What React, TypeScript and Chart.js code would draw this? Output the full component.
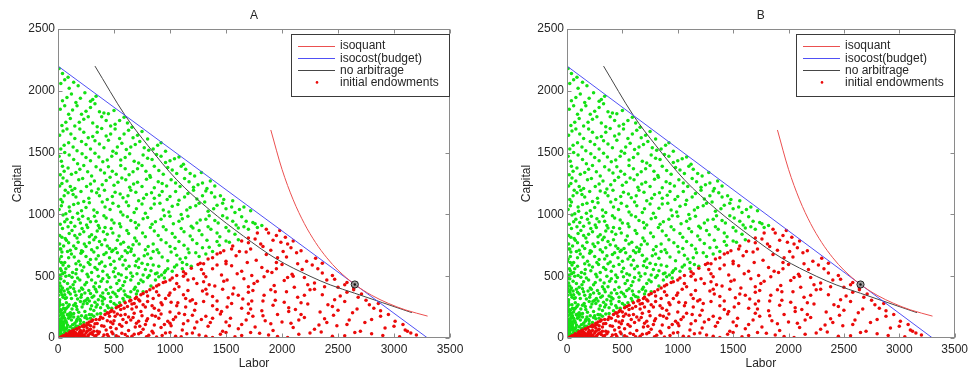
import React, { useEffect, useRef } from "react";
import { Chart, registerables } from "chart.js";

Chart.register(...registerables);

// ---------- text ----------
const panelTitles = ["A", "B"];
const xLabel = "Labor";
const yLabel = "Capital";
const legendLabels = ["isoquant", "isocost(budget)", "no arbitrage", "initial endowments"];

// ---------- axes ----------
const xTickValues = [0, 500, 1000, 1500, 2000, 2500, 3000, 3500];
const yTickValues = [0, 500, 1000, 1500, 2000, 2500];

// ---------- curves ----------
const isoquantL = [1900, 2000, 2100, 2200, 2300, 2400, 2500, 2650, 2800, 2950, 3100, 3300];
const isoquantK = [1683, 1365, 1118, 925, 772, 649, 549, 433, 346, 280, 228, 177];

const isocostL = [0, 3300];
const isocostK = [2200, 0];

const noArbL = [330, 600, 800, 1060, 1350, 1655, 1950, 2250, 2430, 2650, 2900, 3160];
const noArbK = [2200, 1800, 1560, 1280, 1040, 825, 640, 500, 430, 362, 285, 205];

const optimumPoint = [2650, 433];

// ---------- initial endowments ----------
const greenPoints: number[][] = [
  [5,12],[12,40],[30,75],[8,88],[45,95],[20,60],[60,45],[15,25],[35,30],[70,70],[90,55],[150,80],[110,92],[180,95],[25,50],[50,65],[3,70],[80,85],[130,75],[10,5],[40,22],[65,38],[100,60],[160,98],[55,82],
  [5,150],[20,230],[10,300],[35,350],[3,400],[25,420],[15,380],[45,270],[8,255],[50,180],[30,120],[65,320],[40,200],[18,80],[28,140],[6,60],[75,240],[55,380],[12,480],[42,520],[22,560],[5,620],[30,660],[18,720],
  [3,20],[18,45],[32,85],[50,110],[75,125],[95,160],[120,190],[60,135],[22,100],[8,130],[40,160],[85,190],[140,170],[170,150],[250,180],[290,160],[200,140],
  [10,110],[40,130],[85,105],[150,120],[200,115],[230,125],[15,150],[60,160],[120,145],[180,170],[260,155],[320,175],[25,190],[90,185],[140,198],[210,180],[280,190],[350,195],[5,175],[70,140],[110,172],[165,135],[240,165],[300,188],[45,118],[130,108],[195,150],[35,165],[100,195],[380,199],
  [8,210],[50,240],[110,205],[170,230],[240,215],[300,260],[380,245],[420,220],[20,270],[75,285],[140,265],[200,295],[260,280],[330,290],[400,275],[470,295],[550,285],[30,225],[90,255],[155,280],[215,250],[290,235],[350,270],[440,260],[500,280],[60,210],[125,235],[185,208],[12,290],[235,298],[320,222],[480,240],
  [20,215],[65,230],[100,270],[165,255],[225,275],[280,300],[340,250],[395,300],[450,245],[520,265],[590,300],[640,330],[700,355],[760,375],[45,330],[110,355],[175,315],[240,365],[305,330],[380,340],[450,360],[525,335],[590,380],[25,370],[85,395],[150,375],[210,350],[265,320],[335,395],[400,330],
  [15,310],[60,350],[120,320],[190,380],[250,305],[320,340],[400,365],[470,330],[540,385],[600,350],[680,395],[30,390],[95,370],[160,345],[220,395],[290,360],[360,310],[430,390],[510,355],[580,320],[650,375],[5,345],[75,325],[140,398],[205,330],[275,385],[345,375],[415,318],[490,370],[560,398],[620,335],[710,380],
  [10,420],[55,460],[110,410],[175,485],[240,430],[300,470],[370,415],[440,455],[510,495],[580,425],[650,470],[720,440],[800,490],[870,470],[950,485],[25,480],[85,440],[150,455],[210,405],[270,495],[335,445],[400,480],[470,410],[545,465],[610,490],[690,410],[760,455],[830,420],[900,495],[40,405],[125,492],[360,500],
  [15,445],[70,500],[135,430],[195,470],[255,450],[320,415],[385,460],[455,490],[525,440],[595,455],[665,500],[740,470],[815,505],[885,525],[960,545],[1040,575],[1110,560],[1190,580],[30,545],[95,580],[160,520],[215,545],[285,595],[350,555],[420,580],[495,535],[565,510],[635,580],[705,520],[780,555],[850,590],[925,510],[5,500],[60,530],
  [20,510],[70,560],[130,530],[200,590],[260,515],[330,570],[400,540],[470,595],[540,520],[610,560],[690,585],[760,510],[830,545],[900,580],[980,560],[1060,590],[1150,595],[45,590],[100,505],[165,555],[230,575],[300,530],[370,600],[440,510],[510,565],[580,590],[650,525],[720,570],[800,595],[870,520],[950,530],[1020,540],
  [10,640],[60,610],[120,680],[185,620],[250,660],[320,695],[390,615],[460,650],[530,690],[600,630],[680,670],[750,605],[830,645],[900,690],[980,625],[1060,670],[1140,650],[1230,690],[1320,680],[35,695],[95,650],[160,600],[220,700],[290,635],[360,665],[430,690],[500,620],[570,660],[650,700],[720,640],[800,680],[1110,610],
  [30,610],[85,700],[145,655],[205,685],[270,610],[340,640],[410,675],[480,700],[550,640],[620,690],[700,620],[770,665],[850,700],[930,655],[1010,695],[1090,640],[1170,690],[1260,660],[1350,735],[1440,750],[1530,775],[1610,795],[15,760],[95,770],[160,725],[235,760],[300,715],[370,780],[440,745],[515,725],[585,775],[655,720],[725,760],[805,740],[885,715],[965,770],[1045,725],[1125,750],[1200,795],[1290,730],
  [25,720],[75,790],[140,745],[210,705],[280,770],[350,730],[420,795],[490,710],[560,760],[630,735],[700,785],[780,715],[850,760],[920,795],[1000,740],[1080,780],[1160,720],[1240,765],[1330,790],[1420,780],[1500,785],[50,745],[110,710],[180,775],[250,740],[320,795],[390,755],[460,725],[530,790],[600,705],[670,755],[1380,700],
  [15,830],[65,805],[125,870],[195,840],[265,895],[335,815],[405,860],[475,885],[545,825],[615,870],[685,810],[755,850],[825,895],[895,830],[965,875],[1045,815],[1125,860],[1205,890],[1285,835],[1365,880],[1445,820],[1525,865],[1610,890],[1700,880],[1780,895],[40,885],[100,845],[170,810],[230,860],[300,835],[370,890],[440,840],
  [35,815],[90,900],[150,830],[215,885],[280,820],[350,865],[420,895],[490,850],[560,900],[630,845],[700,890],[780,820],[860,865],[940,900],[1020,845],[1100,885],[1180,825],[1260,870],[1340,900],[1420,850],[1500,895],[1580,840],[1660,900],[1740,935],
  [60,940],[130,975],[200,930],[270,965],[340,945],[410,990],[480,955],[550,925],[620,980],[690,935],[760,965],[840,920],[920,960],[1000,985],[1080,945],[1160,985],[1240,930],[1320,960],[1400,950],[1470,990],[1560,945],[1640,980],
  [20,920],[80,960],[150,905],[220,985],[290,940],[360,910],[430,970],[500,930],[580,995],[650,950],[720,915],[800,975],[870,940],[950,990],[1030,925],[1110,965],[1190,905],[1270,955],[1350,990],[1430,930],[1510,970],[1590,915],[1680,945],[1760,925],[1820,910],[45,995],[115,935],[185,960],[255,915],[325,985],
  [10,1040],[70,1005],[140,1080],[210,1030],[280,1095],[350,1015],[420,1060],[490,1090],[560,1020],[630,1070],[700,1045],[780,1010],[860,1085],[940,1035],[1020,1065],[1100,1000],[1180,1055],[1260,1090],[1340,1025],[1420,1075],[1500,1045],[1580,1015],[1660,1060],[1720,1030],[40,1100],[100,1060],[175,1010],
  [30,1070],[105,1025],[180,1090],[250,1055],[320,1035],[395,1100],[465,1040],[540,1065],[610,1100],[680,1015],[750,1085],[830,1050],[910,1090],[990,1020],[1070,1080],[1150,1035],[1230,1070],[1310,1100],[1390,1045],[1470,1090],[1550,1060],[1620,1040],
  [25,1120],[90,1175],[160,1140],[230,1105],[300,1190],[370,1150],[440,1120],[510,1180],[580,1135],[650,1195],[720,1110],[790,1160],[860,1130],[930,1185],[1000,1145],[1080,1115],[1160,1170],[1240,1125],[1320,1190],[1400,1140],[1480,1120],[1560,1110],[55,1150],[125,1195],
  [65,1195],[135,1160],[205,1185],[275,1130],[345,1175],[415,1195],[485,1145],[555,1165],[625,1150],[695,1180],[765,1130],[835,1175],[905,1155],[975,1120],[1050,1185],[1130,1140],[1210,1195],[1290,1150],[1370,1175],[1450,1150],
  [15,1230],[80,1270],[150,1210],[220,1290],[290,1245],[360,1205],[430,1275],[500,1235],[570,1295],[640,1220],[710,1260],[790,1285],[860,1215],[930,1250],[1010,1280],[1090,1225],[1170,1265],[1250,1240],[1330,1210],[1400,1230],[45,1295],
  [35,1250],[110,1225],[185,1280],[255,1225],[325,1270],[395,1240],[465,1300],[535,1260],[605,1280],[675,1245],[750,1225],[825,1300],[895,1265],[970,1230],[1050,1255],[1130,1290],[1210,1220],[1290,1255],[1360,1270],
  [20,1320],[90,1375],[160,1340],[230,1395],[300,1310],[380,1360],[450,1385],[520,1325],[600,1370],[670,1345],[750,1395],[820,1315],[900,1355],[980,1380],[1060,1330],[1140,1365],[1220,1310],[1280,1340],[55,1350],
  [40,1390],[120,1325],[195,1365],[265,1345],[340,1385],[415,1335],[485,1350],[560,1395],[635,1320],[710,1370],[785,1350],[860,1390],[940,1325],[1020,1360],[1100,1390],[1180,1330],
  [30,1430],[100,1480],[175,1410],[250,1460],[330,1495],[400,1425],[480,1470],[560,1440],[640,1490],[720,1415],[800,1455],[880,1485],[960,1420],[1040,1450],[1120,1405],[10,1470],
  [60,1500],[140,1445],[215,1490],[290,1435],[365,1465],[440,1440],[520,1495],[600,1460],[680,1430],[760,1480],[840,1445],[920,1470],[1000,1435],[1080,1465],
  [25,1530],[95,1580],[170,1515],[250,1565],[330,1595],[410,1540],[490,1510],[570,1575],[650,1545],[730,1590],[810,1520],[890,1560],[960,1510],
  [55,1560],[135,1545],[210,1590],[290,1530],[370,1570],[450,1600],[530,1545],[610,1525],[690,1565],[770,1540],[850,1530],[920,1580],
  [15,1640],[80,1690],[150,1615],[230,1665],[310,1630],[390,1695],[470,1650],[550,1615],[630,1680],[710,1640],[800,1610],
  [45,1675],[115,1650],[195,1690],[270,1620],[350,1665],[430,1635],[510,1690],[590,1650],[670,1620],[750,1670],
  [35,1720],[110,1775],[190,1745],[270,1790],[350,1710],[430,1760],[510,1730],[590,1785],[660,1705],
  [70,1745],[150,1715],[230,1770],[310,1740],[390,1790],[470,1715],[550,1760],[620,1740],
  [20,1850],[95,1810],[170,1880],[250,1835],[330,1895],[410,1820],[500,1840],
  [60,1880],[130,1845],[210,1810],[290,1865],[370,1830],[450,1815],
  [40,1920],[120,1975],[200,1940],[290,1915],[340,1955],[80,1945],[160,1905],[240,1985],[310,1930],
  [25,2060],[100,2020],[180,2040],[60,2090],[140,2070],
  [40,2140],[10,2180],[90,2110],
];

const redPoints: number[][] = [
  [25,5],[40,15],[55,8],[70,25],[85,15],[100,35],[115,8],[125,22],[140,50],[160,35],[180,18],[200,60],[220,12],[250,40],[280,65],[310,28],[170,70],[230,90],[260,55],[290,100],[200,28],[145,12],[105,48],[75,34],
  [20,2],[35,10],[50,18],[65,12],[90,8],[120,30],[135,20],[155,45],[175,28],[195,8],[215,42],[235,25],[265,10],[285,35],[320,55],[340,20],[370,48],[410,25],[450,12],[490,35],[540,8],[600,28],[660,15],[720,35],[790,10],[850,40],[930,20],[1000,45],[1100,10],[1200,40],[1320,15],[1450,30],[1580,10],[1720,45],[1880,25],[2050,5],[2250,40],[2450,15],[2650,45],[2900,20],[3150,40],
  [15,3],[30,8],[45,12],[60,20],[80,5],[95,30],[110,15],[130,40],[150,25],[170,10],[190,45],[210,30],[240,8],[270,20],[300,42],[330,15],[360,35],[400,5],[440,28],[480,48],[520,18],[570,38],[620,10],[680,30],[740,45],[810,22],[880,8],[960,40],[1050,15],[1150,35],[1260,25],[1380,5],[1500,45],[1640,20],[1800,38],[1960,12],[2150,30],[2350,48],[2560,18],[2800,35],[3050,10],[3200,25],
  [120,55],[140,65],[165,75],[190,85],[215,95],[230,60],[260,80],[290,70],[320,90],[350,55],[390,100],[430,65],[470,85],[520,75],[570,95],[630,60],[690,90],[760,70],[840,55],[920,85],[1010,100],[1110,65],[1220,80],[1340,95],[1470,55],[1610,75],[1760,90],[1920,60],[2100,85],[2290,70],[2490,100],[2700,55],[2920,80],[3100,65],[205,52],
  [250,100],[280,130],[330,115],[370,150],[410,95],[460,175],[500,140],[560,185],[610,125],[670,165],[730,95],[790,140],[870,175],[950,110],[1030,150],[1130,190],[1240,130],[1380,160],[1530,100],[1680,145],[1830,180],[2000,130],[2170,190],[2380,155],[2580,110],[2800,150],[3000,95],[3120,55],
  [230,105],[260,120],[300,135],[340,150],[380,170],[420,190],[270,110],[310,145],[350,118],[400,160],[450,200],[470,130],[510,175],[550,110],[600,190],[650,145],[700,120],[750,180],[800,155],[860,105],[920,195],[980,135],[1050,170],[1120,115],[1200,185],[1280,150],[1360,125],[1450,195],[1540,160],[1640,110],[1740,175],[1850,140],[1960,190],[2080,120],[2200,165],[2330,105],[2460,185],[2600,145],[2740,125],[2880,175],[3010,135],[3080,110],[2950,190],[440,140],[490,115],[530,195],[580,150],[630,170],[680,200],[720,135],[780,110],[840,185],[900,160],[1000,120],[1080,200],[1160,140],[1320,175],[1500,130],[1700,200],[1900,115],[2150,145],[2400,125],
  [440,205],[480,225],[520,245],[560,265],[600,285],[640,300],[500,210],[560,230],[620,255],[680,280],[740,215],[800,295],[860,240],[930,270],[1000,210],[1070,285],[1140,250],[1220,225],[1300,295],[1380,260],[1460,215],[1550,280],[1640,240],[1730,300],[1820,220],[1920,265],[2020,290],[2120,230],[2230,275],[2340,210],[2450,255],[2560,295],[2670,235],[2780,270],[2880,220],[2860,280],[700,250],[760,270],[900,225],[1180,300],[1420,230],[1700,275],[2060,245],[2500,225],[660,235],[840,260],[1010,290],
  [470,215],[540,255],[590,240],[660,275],[730,300],[780,250],[850,320],[920,285],[990,345],[1060,260],[1140,320],[1230,280],[1320,395],[1420,300],[1510,250],[1610,345],[1720,235],[1830,300],[1940,375],[2060,215],[2170,285],[2290,395],[2410,270],[2520,340],[2630,205],[2710,355],[2820,240],[690,320],[740,350],[790,375],
  [650,305],[700,330],[760,360],[820,390],[720,310],[800,340],[880,375],[960,320],[1040,395],[1120,350],[1200,310],[1290,380],[1380,335],[1470,395],[1560,355],[1650,315],[1740,385],[1840,345],[1940,305],[2040,375],[2140,330],[2250,390],[2360,350],[2470,310],[2580,370],[2680,330],[2750,305],[2640,390],[900,345],[1000,365],[1160,385],[1330,355],[1520,325],[1700,370],[1900,390],[2200,345],
  [850,405],[900,430],[960,455],[1020,485],[1080,415],[1160,470],[1240,440],[1320,495],[1400,420],[1480,460],[1570,405],[1660,480],[1750,440],[1840,495],[1930,425],[2020,465],[2110,410],[2200,490],[2290,445],[2380,415],[2470,475],[2560,430],[2640,405],[2580,450],[1120,500],[1300,455],[1700,415],[2100,500],
  [880,420],[940,450],[1000,470],[1060,440],[1140,520],[1210,480],[1280,555],[1350,430],[1420,590],[1510,470],[1600,520],[1690,610],[1780,460],[1870,540],[1960,650],[2050,490],[2140,600],[2230,430],[2320,560],[2400,470],[2500,410],[1300,600],[1380,650],[1450,690],
  [1060,505],[1120,535],[1190,565],[1250,595],[1300,520],[1380,560],[1460,510],[1550,585],[1640,540],[1730,505],[1820,570],[1910,530],[2000,595],[2090,515],[2180,555],[2270,590],[2360,525],[2450,505],[1500,600],[1950,560],
  [1270,605],[1340,640],[1420,680],[1500,620],[1590,665],[1680,695],[1770,630],[1860,675],[1950,610],[2040,655],[2130,690],[2220,620],[2300,645],[2360,605],
  [1550,720],[1620,700],[1700,770],[1760,800],[1830,740],[1920,790],[2010,700],[2050,760],[1880,850],[1980,870],
  [1480,705],[1560,745],[1640,785],[1720,720],[1810,760],[1900,710],[1990,775],[2080,730],[2170,705],[2100,785],
  [1700,810],[1780,850],[1860,880],[1950,830],[2030,815],
];

// ---------- styling ----------
const FONT = "'Liberation Sans', Arial, Helvetica, sans-serif";
const TEXT = "#262626";
const RED_LINE = "rgb(235,80,80)";
const BLUE_LINE = "rgb(80,80,245)";
const BLACK_LINE = "rgb(70,70,70)";
const GREEN_DOT = "rgb(20,225,20)";
const RED_DOT = "rgb(235,10,10)";
const DOT_RADIUS = 1.75;

Chart.defaults.font.family = FONT;

const pairs = (xs: number[], ys: number[]) => xs.map((x, i) => ({ x, y: ys[i] }));
const pts = (arr: number[][]) => arr.map(([x, y]) => ({ x, y }));

const decorPlugin = {
  id: "decor",
  afterDraw(chart: any, _args: any, opts: any) {
    const { ctx, chartArea: a } = chart;
    const xs = chart.scales.x;
    const ys = chart.scales.y;
    ctx.save();
    const L = Math.round(a.left) + 0.5;
    const R = Math.round(a.right) - 0.5;
    const T = Math.round(a.top) + 0.5;
    const B = Math.round(a.bottom) - 0.5;
    ctx.strokeStyle = "#8a8a8a";
    ctx.lineWidth = 1;
    ctx.strokeRect(L, T, R - L, B - T);
    ctx.beginPath();
    xTickValues.forEach((v) => {
      const px = Math.round(xs.getPixelForValue(v)) + 0.5;
      ctx.moveTo(px, B);
      ctx.lineTo(px, B - 4);
      ctx.moveTo(px, T);
      ctx.lineTo(px, T + 4);
    });
    yTickValues.forEach((v) => {
      const py = Math.round(ys.getPixelForValue(v)) + 0.5;
      ctx.moveTo(L, py);
      ctx.lineTo(L + 4, py);
      ctx.moveTo(R, py);
      ctx.lineTo(R - 4, py);
    });
    ctx.stroke();

    // title
    ctx.fillStyle = TEXT;
    ctx.font = `12px ${FONT}`;
    ctx.textAlign = "center";
    ctx.textBaseline = "middle";
    ctx.fillText(opts.title, (a.left + a.right) / 2, 16);

    // legend
    const lw = 159;
    const lh = 62;
    const lx = Math.round(a.right) - lw;
    const ly = Math.round(a.top) + 5;
    ctx.fillStyle = "#fff";
    ctx.fillRect(lx, ly, lw, lh);
    ctx.strokeStyle = "#3a3a3a";
    ctx.strokeRect(lx + 0.5, ly + 0.5, lw - 1, lh);
    const colors = [RED_LINE, BLUE_LINE, BLACK_LINE];
    ctx.textAlign = "left";
    legendLabels.forEach((label, i) => {
      const y = ly + 11.5 + i * 12.3;
      if (i < 3) {
        ctx.strokeStyle = colors[i];
        ctx.beginPath();
        ctx.moveTo(lx + 7, Math.round(y) + 0.5);
        ctx.lineTo(lx + 44, Math.round(y) + 0.5);
        ctx.stroke();
      } else {
        ctx.fillStyle = RED_DOT;
        ctx.beginPath();
        ctx.arc(lx + 26, y, 1.3, 0, Math.PI * 2);
        ctx.fill();
      }
      ctx.fillStyle = TEXT;
      ctx.fillText(label, lx + 49, y + 0.5);
    });
    ctx.restore();
  },
};

function makeConfig(title: string, padLeft: number, padRight: number): any {
  return {
    type: "scatter",
    data: {
      datasets: [
        {
          label: "optimum-center",
          data: [{ x: optimumPoint[0], y: optimumPoint[1] }],
          pointRadius: 1.2,
          pointBackgroundColor: "#111",
          pointBorderWidth: 0,
        },
        {
          label: "optimum",
          data: [{ x: optimumPoint[0], y: optimumPoint[1] }],
          pointRadius: 3.6,
          pointBackgroundColor: "rgba(140,140,140,0.85)",
          pointBorderColor: "#222",
          pointBorderWidth: 1,
        },
        {
          label: legendLabels[0],
          data: pairs(isoquantL, isoquantK),
          showLine: true,
          borderColor: RED_LINE,
          borderWidth: 1,
          pointRadius: 0,
          cubicInterpolationMode: "monotone",
        },
        {
          label: legendLabels[1],
          data: pairs(isocostL, isocostK),
          showLine: true,
          borderColor: BLUE_LINE,
          borderWidth: 1,
          pointRadius: 0,
        },
        {
          label: legendLabels[2],
          data: pairs(noArbL, noArbK),
          showLine: true,
          borderColor: BLACK_LINE,
          borderWidth: 1,
          pointRadius: 0,
          cubicInterpolationMode: "monotone",
        },
        {
          label: legendLabels[3],
          data: pts(redPoints),
          pointRadius: DOT_RADIUS,
          pointBackgroundColor: RED_DOT,
          pointBorderWidth: 0,
        },
        {
          label: "endowments-green",
          data: pts(greenPoints),
          pointRadius: DOT_RADIUS,
          pointBackgroundColor: GREEN_DOT,
          pointBorderWidth: 0,
        },
      ],
    },
    options: {
      responsive: false,
      animation: false,
      devicePixelRatio: 1,
      events: [],
      layout: { padding: { left: padLeft, right: padRight, top: 29, bottom: 0 } },
      plugins: {
        legend: { display: false },
        tooltip: { enabled: false },
        decor: { title },
      },
      scales: {
        x: {
          type: "linear",
          min: xTickValues[0],
          max: xTickValues[xTickValues.length - 1],
          afterBuildTicks: (s: any) => {
            s.ticks = xTickValues.map((v) => ({ value: v }));
          },
          afterFit: (s: any) => {
            s.height = 33;
          },
          grid: { display: false, drawTicks: false },
          border: { display: false },
          ticks: {
            padding: 4,
            color: TEXT,
            font: { size: 12 },
            maxRotation: 0,
            autoSkip: false,
            callback: (v: any) => String(v),
          },
          title: { display: true, text: xLabel, color: TEXT, font: { size: 12 }, padding: { top: 0, bottom: 0 } },
        },
        y: {
          type: "linear",
          min: yTickValues[0],
          max: yTickValues[yTickValues.length - 1],
          afterBuildTicks: (s: any) => {
            s.ticks = yTickValues.map((v) => ({ value: v }));
          },
          afterFit: (s: any) => {
            s.width = 58;
          },
          grid: { display: false, drawTicks: false },
          border: { display: false },
          ticks: { padding: 3, color: TEXT, font: { size: 12 }, autoSkip: false, callback: (v: any) => String(v) },
          title: { display: true, text: yLabel, color: TEXT, font: { size: 12 }, padding: { top: 10, bottom: 0 } },
        },
      },
    },
    plugins: [decorPlugin],
  };
}

function Panel({ title, left, padLeft, padRight }: { title: string; left: number; padLeft: number; padRight: number }) {
  const ref = useRef<HTMLCanvasElement>(null);
  useEffect(() => {
    if (!ref.current) return;
    const chart = new Chart(ref.current, makeConfig(title, padLeft, padRight));
    return () => chart.destroy();
  }, [title, padLeft, padRight]);
  return (
    <canvas
      ref={ref}
      width={486}
      height={371}
      style={{ position: "absolute", left, top: 0, width: 486, height: 371 }}
    />
  );
}

export default function App() {
  return (
    <div style={{ position: "absolute", left: 0, top: 0, width: 972, height: 371, background: "#fff", overflow: "hidden" }}>
      <Panel title={panelTitles[0]} left={0} padLeft={0} padRight={36} />
      <Panel title={panelTitles[1]} left={486} padLeft={23} padRight={14} />
    </div>
  );
}
